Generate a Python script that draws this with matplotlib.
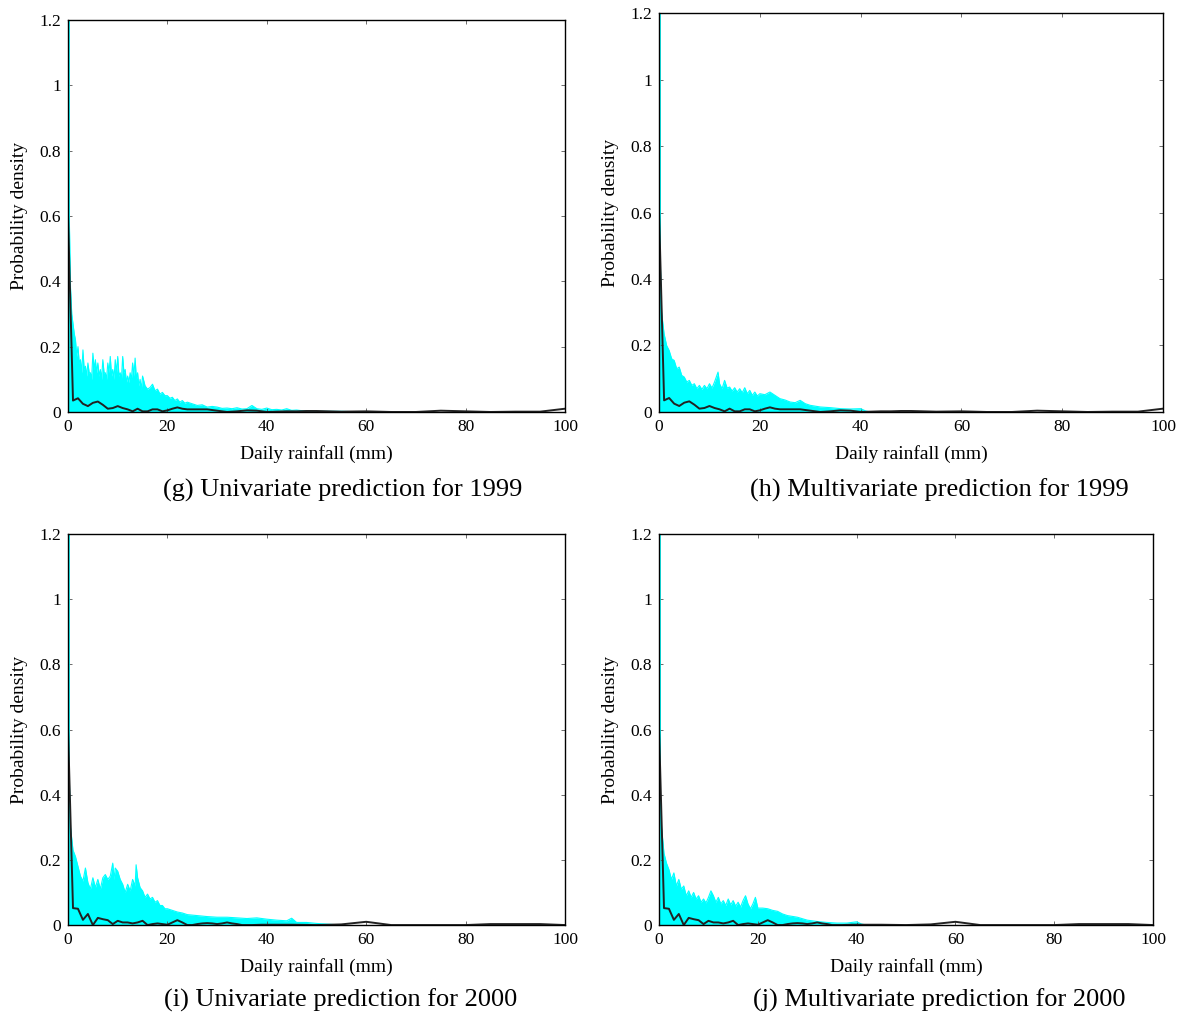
import numpy as np
import matplotlib
matplotlib.use('Agg')
import matplotlib.pyplot as plt

plt.rcParams['font.family'] = ['Liberation Serif', 'DejaVu Serif']

# observed densities (black lines)
obs_x_1999 = [0, 1, 2, 3, 4, 5, 6, 7, 8, 9, 10, 11, 12, 13, 14, 15, 16, 17, 18, 19, 20,
              21, 22, 23, 24, 26, 28, 30, 32, 34, 36, 38, 40, 42, 44, 46, 48, 50,
              55, 60, 65, 70, 75, 80, 85, 90, 95, 100]
obs_y_1999 = [0.6, 0.035, 0.042, 0.025, 0.018, 0.028, 0.032, 0.022, 0.01, 0.012, 0.018,
              0.012, 0.008, 0.002, 0.01, 0.002, 0.002, 0.008, 0.008, 0.002, 0.005,
              0.01, 0.014, 0.01, 0.008, 0.008, 0.008, 0.004, 0.0, 0.002, 0.005, 0.004,
              0.0, 0.001, 0.002, 0.002, 0.003, 0.003, 0.001, 0.002, 0.0, 0.0, 0.004,
              0.002, 0.0, 0.001, 0.001, 0.01]
obs_x_2000 = [0, 1, 2, 3, 4, 5, 6, 7, 8, 9, 10, 11, 12, 13, 14, 15, 16, 17, 18, 19, 20,
              21, 22, 23, 24, 25, 26, 27, 28, 29, 30, 31, 32, 33, 34, 35, 37, 39, 41,
              45, 50, 55, 60, 65, 70, 75, 80, 85, 90, 95, 100]
obs_y_2000 = [0.6, 0.052, 0.05, 0.016, 0.034, 0.0, 0.022, 0.018, 0.015, 0.003, 0.013,
              0.008, 0.008, 0.005, 0.008, 0.013, 0.0, 0.003, 0.005, 0.003, 0.001,
              0.008, 0.015, 0.008, 0.0, 0.0, 0.003, 0.005, 0.006, 0.005, 0.003, 0.005,
              0.008, 0.005, 0.003, 0.0, 0.0, 0.001, 0.001, 0.001, 0.0, 0.002, 0.01,
              0.0, 0.0, 0.0, 0.0, 0.003, 0.003, 0.003, 0.0]

# predicted density envelopes (cyan), read at ~0.25 mm steps where noisy
pred_x_g = [0, 0.25, 0.5, 0.75, 1, 1.25, 1.5, 1.75, 2, 2.25, 2.5, 2.75, 3, 3.25, 3.5,
            3.75, 4, 4.25, 4.5, 4.75, 5, 5.25, 5.5, 5.75, 6, 6.25, 6.5, 6.75, 7, 7.25,
            7.5, 7.75, 8, 8.25, 8.5, 8.75, 9, 9.25, 9.5, 9.75, 10, 10.25, 10.5, 10.75,
            11, 11.25, 11.5, 11.75, 12, 12.25, 12.5, 12.75, 13, 13.25, 13.5, 13.75,
            14, 14.25, 14.5, 14.75, 15, 15.5, 16, 16.5, 17, 17.5, 18, 18.5, 19, 19.5,
            20, 20.5, 21, 21.5, 22, 22.5, 23, 23.5, 24, 25, 26, 27, 28, 29, 30, 31,
            32, 33, 34, 35, 36, 37, 38, 39, 40, 41, 42, 43, 44, 45, 46, 47, 48, 50,
            55, 60]
pred_y_g = [1.2, 0.6, 0.38, 0.3, 0.27, 0.24, 0.22, 0.17, 0.2, 0.15, 0.16, 0.12, 0.19,
            0.13, 0.14, 0.11, 0.15, 0.12, 0.12, 0.1, 0.18, 0.13, 0.16, 0.12, 0.15,
            0.11, 0.13, 0.1, 0.16, 0.12, 0.12, 0.1, 0.15, 0.12, 0.17, 0.11, 0.13,
            0.1, 0.16, 0.12, 0.17, 0.11, 0.12, 0.1, 0.17, 0.12, 0.13, 0.09, 0.11,
            0.09, 0.12, 0.1, 0.15, 0.11, 0.165, 0.1, 0.12, 0.08, 0.1, 0.07, 0.11,
            0.08, 0.07, 0.075, 0.085, 0.065, 0.07, 0.055, 0.06, 0.05, 0.05, 0.042,
            0.045, 0.035, 0.04, 0.03, 0.035, 0.027, 0.03, 0.025, 0.02, 0.022, 0.015,
            0.017, 0.015, 0.011, 0.012, 0.01, 0.013, 0.009, 0.01, 0.02, 0.01, 0.008,
            0.012, 0.007, 0.008, 0.006, 0.01, 0.005, 0.006, 0.004, 0.004, 0.002,
            0.002, 0.0]
pred_x_h = [0, 0.25, 0.5, 1, 1.5, 2, 2.5, 3, 3.5, 4, 4.5, 5, 5.5, 6, 6.5, 7, 7.5, 8,
            8.5, 9, 9.5, 10, 10.5, 11, 11.7, 12, 12.5, 13, 13.5, 14, 14.5, 15, 15.5,
            16, 16.5, 17, 17.5, 18, 18.5, 19, 19.5, 20, 21, 22, 23, 24, 25, 26, 27,
            28, 29, 30, 32, 34, 36, 38, 40, 41, 42]
pred_y_h = [1.2, 0.45, 0.3, 0.235, 0.2, 0.185, 0.16, 0.155, 0.13, 0.135, 0.11, 0.105,
            0.09, 0.095, 0.08, 0.085, 0.07, 0.08, 0.068, 0.08, 0.07, 0.085, 0.072,
            0.09, 0.12, 0.085, 0.07, 0.095, 0.072, 0.075, 0.063, 0.073, 0.06, 0.07,
            0.058, 0.073, 0.055, 0.065, 0.05, 0.06, 0.048, 0.055, 0.052, 0.06, 0.05,
            0.04, 0.036, 0.03, 0.028, 0.035, 0.025, 0.02, 0.015, 0.013, 0.01, 0.009,
            0.01, 0.003, 0.0]
pred_x_i = [0, 0.25, 0.5, 1, 1.5, 2, 2.5, 3, 3.5, 4, 4.5, 5, 5.5, 6, 6.5, 7, 7.5, 8,
            8.5, 9, 9.25, 9.5, 10, 10.5, 11, 11.5, 12, 12.5, 13, 13.5, 13.7, 14,
            14.5, 15, 15.5, 16, 16.5, 17, 17.5, 18, 18.5, 19, 19.5, 20, 21, 22, 23,
            24, 26, 28, 30, 32, 34, 36, 38, 40, 42, 44, 45, 46, 48, 50, 52, 55]
pred_y_i = [1.2, 0.45, 0.3, 0.23, 0.21, 0.18, 0.15, 0.135, 0.175, 0.13, 0.11, 0.145,
            0.115, 0.14, 0.11, 0.145, 0.155, 0.14, 0.15, 0.19, 0.14, 0.175, 0.165,
            0.14, 0.125, 0.1, 0.125, 0.105, 0.14, 0.12, 0.185, 0.145, 0.115, 0.105,
            0.085, 0.095, 0.08, 0.085, 0.07, 0.075, 0.06, 0.06, 0.05, 0.05, 0.045,
            0.04, 0.037, 0.032, 0.029, 0.026, 0.024, 0.024, 0.022, 0.02, 0.022,
            0.018, 0.015, 0.013, 0.021, 0.008, 0.008, 0.005, 0.003, 0.0]
pred_x_j = [0, 0.3, 0.5, 1, 1.5, 2, 2.5, 3, 3.5, 4, 4.5, 5, 5.5, 6, 6.5, 7, 7.5, 8,
            8.5, 9, 9.5, 10, 10.5, 11, 11.5, 12, 12.5, 13, 13.5, 14, 14.5, 15, 15.5,
            16, 16.5, 17, 17.5, 18, 18.5, 19, 19.5, 20, 21, 22, 23, 24, 25, 26, 28,
            30, 32, 34, 36, 38, 40, 41, 42]
pred_y_j = [1.2, 0.35, 0.3, 0.22, 0.19, 0.17, 0.14, 0.16, 0.12, 0.14, 0.11, 0.12, 0.09,
            0.105, 0.085, 0.1, 0.08, 0.09, 0.07, 0.08, 0.068, 0.085, 0.105, 0.09,
            0.07, 0.085, 0.065, 0.075, 0.06, 0.08, 0.062, 0.075, 0.058, 0.07, 0.055,
            0.075, 0.09, 0.065, 0.05, 0.065, 0.085, 0.052, 0.052, 0.05, 0.045,
            0.042, 0.034, 0.029, 0.024, 0.015, 0.011, 0.008, 0.006, 0.006, 0.01,
            0.003, 0.0]

captions = ['(g) Univariate prediction for 1999', '(h) Multivariate prediction for 1999',
            '(i) Univariate prediction for 2000', '(j) Multivariate prediction for 2000']

panels = [
    ([0.0577, 0.5957, 0.4215, 0.3847], pred_x_g, pred_y_g, obs_x_1999, obs_y_1999),
    ([0.559, 0.5957, 0.4275, 0.3915], pred_x_h, pred_y_h, obs_x_1999, obs_y_1999),
    ([0.0577, 0.0922, 0.4215, 0.3837], pred_x_i, pred_y_i, obs_x_2000, obs_y_2000),
    ([0.559, 0.0922, 0.419, 0.3837], pred_x_j, pred_y_j, obs_x_2000, obs_y_2000),
]
cap_pos = [(0.291, 0.519), (0.797, 0.519), (0.289, 0.0187), (0.797, 0.0187)]

fig = plt.figure(figsize=(11.79, 10.19), dpi=100)

for (rect, px, py, ox, oy), cap, cp in zip(panels, captions, cap_pos):
    ax = fig.add_axes(rect)
    ax.fill_between(px, 0, py, color='#00ffff', lw=0)
    ax.plot(px, py, color='#00ffff', lw=0.8)
    ax.plot([0, 0], [0, 1.2], color='#00ffff', lw=2)
    ax.plot(ox, oy, color='#222222', lw=1.4)
    ax.set_xlim(0, 100)
    ax.set_ylim(0, 1.2)
    ax.set_xticks([0, 20, 40, 60, 80, 100])
    ax.set_yticks([0, 0.2, 0.4, 0.6, 0.8, 1, 1.2])
    ax.set_yticklabels(['0', '0.2', '0.4', '0.6', '0.8', '1', '1.2'])
    ax.tick_params(direction='in', top=True, right=True, length=3, width=0.6,
                   labelsize=12.5, pad=5, colors='#555555', labelcolor='black')
    for s in ax.spines.values():
        s.set_linewidth(1.0)
        s.set_color('black')
    ax.set_xlabel('Daily rainfall (mm)', fontsize=14, labelpad=7)
    ax.set_ylabel('Probability density', fontsize=14, labelpad=8)
    fig.text(cp[0], cp[1], cap, fontsize=19, ha='center', va='center')

fig.savefig('out.png', dpi=100)
